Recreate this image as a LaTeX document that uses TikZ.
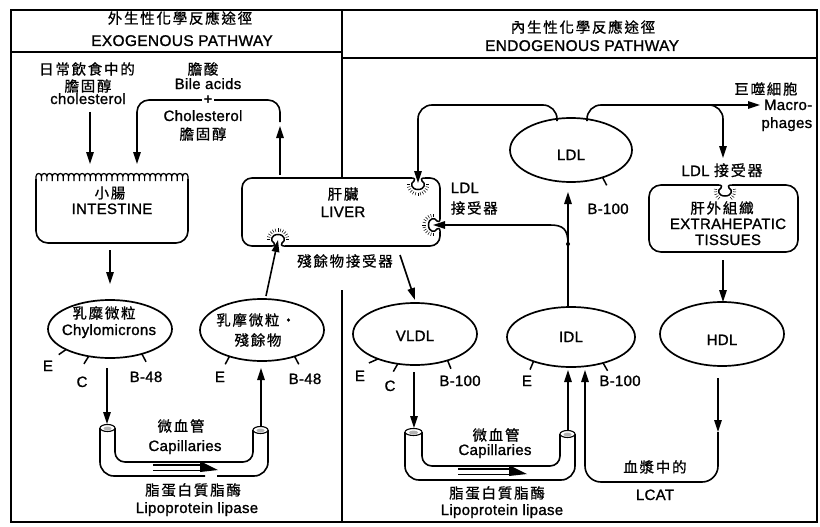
\documentclass[tikz,border=0pt]{standalone}
\usepackage{fontspec}
\setmainfont{Liberation Sans}
\newfontfamily\enf[LetterSpace=2,FakeBold=1.2]{Liberation Sans}
\newfontfamily\cjkf[LetterSpace=12,FakeBold=0.8]{Noto Sans CJK TC}
\usetikzlibrary{arrows.meta,shapes.geometric}
\tikzset{
  notch/.pic={
    \fill[white] (-6.5,-2) rectangle (6.5,2);
    \draw[line width=1.5pt] (-9,0) -- (-6,0) .. controls (-3,0) and (-3,2) .. (-4,3) .. controls (-8,5) and (-7,11.5) .. (0,11.5) .. controls (7,11.5) and (8,5) .. (4,3) .. controls (3,2) and (3,0) .. (6,0) -- (9,0);
    \foreach \a in {0,15,...,180} \draw[line width=0.5pt] (0,6.5) ++(\a:8) -- ++(\a:3.2);
  },
  smallnotch/.pic={
    \fill[white] (-6.5,-2) rectangle (6.5,2);
    \draw[line width=1.5pt] (-9,0) -- (-6,0) .. controls (-3,0) and (-3,2) .. (-4,3) .. controls (-8,5) and (-7,11) .. (0,11) .. controls (7,11) and (8,5) .. (4,3) .. controls (3,2) and (3,0) .. (6,0) -- (9,0);
    \foreach \a in {-10,5,...,50,130,145,...,190} \draw[line width=0.5pt] (0,6) ++(\a:8) -- ++(\a:3.2);
  }
}
\begin{document}
\begin{tikzpicture}[x=1pt,y=-1pt,line width=1.6pt,
  arr/.style={-{Triangle[length=12pt,width=7.5pt]},line width=1.6pt},
  en/.style={font=\enf\fontsize{15}{17}\selectfont,inner sep=0pt,text height=11pt,text depth=3pt},
  hd/.style={font=\enf\fontsize{15.5}{17}\selectfont,inner sep=0pt,text height=11pt,text depth=3pt},
  cj/.style={font=\cjkf\fontsize{14.5}{17}\selectfont,inner sep=0pt},
  blob/.style={ellipse,draw,line width=1.7pt,inner sep=0pt,outer sep=0pt},
  fr/.style={line width=1.6pt},
  tk/.style={line width=1.5pt}]
\useasboundingbox (0,0) rectangle (820,527);
\fill[white] (0,0) rectangle (820,527);

% frames
\draw[fr] (342,10) -- (11,10) -- (11,522) -- (817,522) -- (817,10) -- (342,10);
\draw[fr] (11,52) -- (342,52);
\draw[fr] (342,58) -- (817,58);
\draw[fr] (342,10) -- (342,178);
\draw[fr] (342,290) -- (342,522);

% headers
\node[cj] (exozh) at (180,18) {外生性化學反應途徑};
\node[hd] (exoen) at (182,42) {EXOGENOUS PATHWAY};
\node[cj] (endozh) at (583,27) {內生性化學反應途徑};
\node[hd] (endoen) at (582,47) {ENDOGENOUS PATHWAY};

% diet
\node[cj] (diet1) at (87,69) {日常飲食中的};
\node[cj] (diet2) at (88,86) {膽固醇};
\node[en] (diet3) at (88,100) {cholesterol};
\node[cj] (bile1) at (203,69) {膽酸};
\node[en] (bile2) at (208,85) {Bile acids};
\node[en] (chol1) at (203,117) {Cholesterol};
\node[cj] (chol2) at (203,134) {膽固醇};

% intestine
\draw[line width=1.2pt] (36,181) \foreach \i in {1,...,28}{ -- ++(0,-4.5) .. controls +(0,-4) and +(0,-4) .. ++(5.43,0) -- ++(0,4.5)};
\draw[rounded corners=12] (36,179) -- (36,243) -- (188,243) -- (188,179);
\node[cj] (int1) at (110,193) {小腸};
\node[en] (int2) at (112,210) {INTESTINE};

% liver
\draw[rounded corners=10] (242,178) rectangle (440,246);
\pic at (418,178) {notch};
\pic[rotate=-90] at (440,225) {notch};
\pic[rotate=180] at (278,246) {notch};
\node[cj] (liv1) at (343,194) {肝臟};
\node[en] (liv2) at (343,213) {LIVER};
\node[cj] (remrec) at (345,261) {殘餘物接受器};
\node[en,anchor=west] (ldlr1) at (450,189) {LDL};
\node[cj,anchor=west] (ldlr2) at (450,208) {接受器};

% arrows top-left
\coordinate (dietA) at (90,112);
\coordinate (dietB) at (90,164);
\draw[arr] (dietA) -- (dietB);
\coordinate (livUp) at (280,175);
\coordinate (livUpT) at (280,126);
\draw[arr] (livUp) -- (livUpT);
\coordinate (bileS) at (280,122);
\coordinate (bileC) at (137,100);
\coordinate (bileE) at (137,164);
\draw[arr,rounded corners=12] (bileS) |- (bileC) -- (bileE);
\node[en,fill=white,inner sep=2pt] (plus) at (208,100) {+};

% chylomicrons
\node[blob,minimum width=124pt,minimum height=58pt] (chy) at (110,329) {};
\node[cj] (chy1) at (104,313) {乳糜微粒};
\node[en] (chy2) at (109,331) {Chylomicrons};
\coordinate (intB) at (110,250);
\coordinate (chyT) at (110,284);
\draw[arr] (intB) -- (chyT);
\draw[tk] (chy.-155) -- ++(-145:9pt);
\draw[tk] (chy.-128) -- ++(-122:9pt);
\draw[tk] (chy.-38) -- ++(-62:9pt);
\node[en] (chyE) at (48,367) {E};
\node[en] (chyC) at (82,383) {C};
\node[en] (chyB) at (146,378) {B-48};

% remnant
\node[blob,minimum width=124pt,minimum height=62pt] (rem) at (262,330) {};
\node[cj] (rem1) at (256,320) {乳摩微粒·};
\node[cj] (rem2) at (258,340) {殘餘物};
\draw[tk] (rem.-141) -- ++(-118:9pt);
\draw[tk] (rem.-39) -- ++(-62:9pt);
\node[en] (remE) at (220,378) {E};
\node[en] (remB) at (305,380) {B-48};
\coordinate (remT) at (266,296);
\coordinate (livR) at (278,240);
\draw[arr] (remT) -- (livR);

% left capillary
\draw[rounded corners=14] (100,428) |- (205,476);
\draw[rounded corners=14] (217,476) -| (268,430);
\draw[rounded corners=10] (115,428) |- (253,462) -- (253,430);
\draw[line width=1.1pt,fill=white] (107.5,428) ellipse [x radius=7.5,y radius=3.5];
\fill[gray!60] (107.5,428.5) ellipse [x radius=4,y radius=2];
\draw[line width=1.1pt,fill=white] (260.5,430) ellipse [x radius=7.5,y radius=3.5];
\fill[gray!60] (260.5,430.5) ellipse [x radius=4,y radius=2];
\draw[line width=1.3pt] (153,465) -- (203,465);
\draw[line width=1.3pt] (153,470.5) -- (203,470.5);
\fill (200,461) -- (218,470) -- (200,472) -- cycle;
\coordinate (chyB1) at (107,368);
\coordinate (capL1) at (107,424);
\draw[arr] (chyB1) -- (capL1);
\coordinate (capL2) at (261,426);
\coordinate (remB1) at (261,368);
\draw[arr] (capL2) -- (remB1);
\node[cj] (capzh1) at (181,426) {微血管};
\node[en] (capen1) at (185,447) {Capillaries};
\node[cj] (lplzh1) at (193,490) {脂蛋白質脂酶};
\node[en] (lplen1) at (197,509) {Lipoprotein lipase};

% VLDL
\node[blob,minimum width=124pt,minimum height=62pt] (vldl) at (415,334) {};
\node[en] (vldlt) at (415,337) {VLDL};
\coordinate (livV) at (400,255);
\coordinate (vldlT) at (415,300);
\draw[arr] (livV) -- (vldlT);
\draw[tk] (vldl.-146) -- ++(-156:10pt);
\draw[tk] (vldl.-120) -- ++(-120:9pt);
\draw[tk] (vldl.-39) -- ++(-68:9pt);
\node[en] (vldlE) at (360,377) {E};
\node[en] (vldlC) at (390,387) {C};
\node[en] (vldlB) at (460,382) {B-100};

% IDL
\node[blob,minimum width=128pt,minimum height=60pt] (idl) at (571,337) {};
\node[en] (idlt) at (571,338) {IDL};
\draw[tk] (idl.-147) -- ++(-113:9pt);
\draw[tk] (idl.-39) -- ++(-60:9pt);
\node[en] (idlE) at (527,382) {E};
\node[en] (idlB) at (620,382) {B-100};

% right capillary
\draw[rounded corners=14] (405,432) |- (575,480) -- (575,434);
\draw[rounded corners=10] (422,432) |- (560,466) -- (560,434);
\draw[line width=1.1pt,fill=white] (413.5,432) ellipse [x radius=8.5,y radius=3.5];
\fill[gray!60] (413.5,432.5) ellipse [x radius=4.5,y radius=2];
\draw[line width=1.1pt,fill=white] (567.5,434) ellipse [x radius=7.5,y radius=3.5];
\fill[gray!60] (567.5,434.5) ellipse [x radius=4,y radius=2];
\draw[line width=1.3pt] (458,469) -- (512,469);
\draw[line width=1.3pt] (458,474.5) -- (512,474.5);
\fill (509,465) -- (527,474) -- (509,476) -- cycle;
\coordinate (vldlB1) at (414,372);
\coordinate (capR1) at (414,428);
\draw[arr] (vldlB1) -- (capR1);
\coordinate (capR2) at (568,430);
\coordinate (idlB1) at (568,370);
\draw[arr] (capR2) -- (idlB1);
\node[cj] (capzh2) at (496,435) {微血管};
\node[en] (capen2) at (495,451) {Capillaries};
\node[cj] (lplzh2) at (497,493) {脂蛋白質脂酶};
\node[en] (lplen2) at (502,511) {Lipoprotein lipase};

% LDL
\node[blob,minimum width=122pt,minimum height=64pt] (ldl) at (571,150) {};
\node[en] (ldlt) at (571,156) {LDL};
\draw[tk] (ldl.-41) -- ++(-62:9pt);
\node[en] (ldlB) at (608,210) {B-100};
\coordinate (idlT) at (568,306);
\coordinate (ldlBot) at (568,192);
\draw[arr] (idlT) -- (ldlBot);
\coordinate (brS) at (568,244);
\coordinate (livRR) at (433,225);
\draw[arr] (brS) .. controls (568,229) and (563,225) .. (550,225) -- (livRR);
\fill (brS) circle (2);
\coordinate (ldlL) at (557,121);
\coordinate (ldlLc) at (418,105);
\coordinate (livTop) at (418,183);
\draw[arr,rounded corners=14] (ldlL) |- (ldlLc) -- (livTop);
\coordinate (ldlR) at (587,121);
\coordinate (macro) at (760,105);
\draw[arr,rounded corners=14] (ldlR) |- (macro);
\coordinate (brR) at (700,105);
\coordinate (extT) at (723,158);
\draw[arr,rounded corners=14] (brR) -| (extT);
\node[cj] (mac1) at (766,89) {巨噬細胞};
\node[en,anchor=east] (mac2) at (813,106) {Macro-};
\node[en,anchor=east] (mac3) at (813,124) {phages};

% extrahepatic
\node[en] (extr1) at (722,172) {LDL {\cjkf 接受器}};
\draw[rounded corners=12] (649,185) rectangle (798,252);
\pic at (725,185) {smallnotch};
\node[cj] (ext1) at (722,208) {肝外組織};
\node[en] (ext2) at (728,225) {EXTRAHEPATIC};
\node[en] (ext3) at (728,241) {TISSUES};

% HDL
\node[blob,minimum width=124pt,minimum height=64pt] (hdl) at (722,334) {};
\node[en] (hdlt) at (722,341) {HDL};
\coordinate (extB) at (723,260);
\coordinate (hdlT) at (723,302);
\draw[arr] (extB) -- (hdlT);
\coordinate (hdlB) at (718,378);
\coordinate (lcatM) at (718,432);
\coordinate (lcatC) at (585,482);
\coordinate (idlB2) at (585,370);
\draw[arr] (hdlB) -- (lcatM);
\draw[arr,rounded corners=16] (lcatM) |- (lcatC) -- (idlB2);
\node[cj] (pl1) at (655,467) {血漿中的};
\node[en] (pl2) at (655,496) {LCAT};
\end{tikzpicture}
\end{document}
